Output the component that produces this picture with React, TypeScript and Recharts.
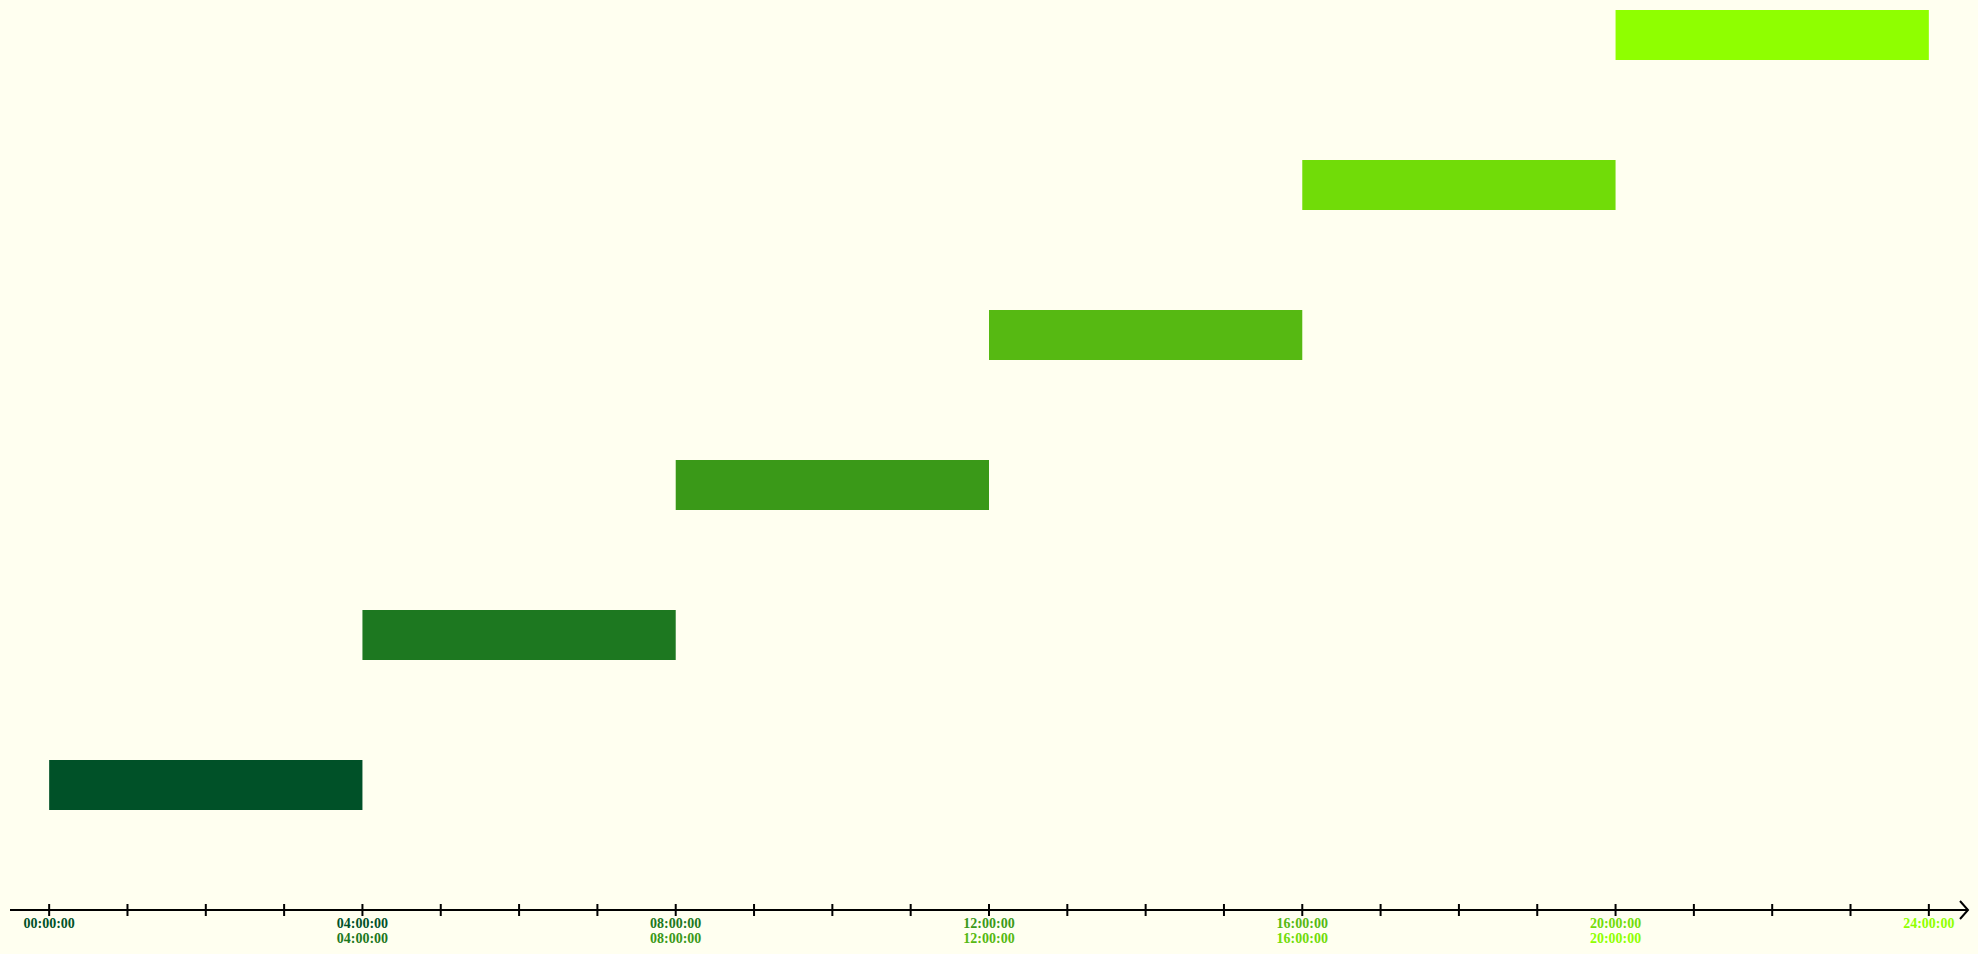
import { Bar, BarChart, Cell, XAxis, YAxis } from "recharts";

// one row per shift, bottom row first
const ROWS = ["Shift 1", "Shift 2", "Shift 3", "Shift 4", "Shift 5", "Shift 6"];
const START_HOURS = [0, 4, 8, 12, 16, 20];
const END_HOURS = [4, 8, 12, 16, 20, 24];
const COLORS = ["#005128", "#1d7820", "#3a9918", "#56b912", "#71dc08", "#8fff00"];
const HOUR_TICKS = [0, 1, 2, 3, 4, 5, 6, 7, 8, 9, 10, 11, 12, 13, 14, 15, 16, 17, 18, 19, 20, 21, 22, 23, 24];
const LABELED_HOURS = [0, 4, 8, 12, 16, 20, 24];
const AXIS_START = -0.5;
const AXIS_END = 24.5;

const data = ROWS.map((name, i) => ({ name, span: [START_HOURS[i], END_HOURS[i]] }));

const fmt = (h: number) => `${String(h).padStart(2, "0")}:00:00`;

function HourTick({ x, y, payload }: any) {
  const v = payload.value as number;
  if (v === AXIS_END) {
    return <path d={`M${x - 8},${y - 9} L${x},${y} L${x - 8},${y + 9}`} fill="none" stroke="#000" strokeWidth={2} />;
  }
  const lines: { text: string; color: string }[] = [];
  if (LABELED_HOURS.includes(v)) {
    END_HOURS.forEach((h, i) => h === v && lines.push({ text: fmt(h), color: COLORS[i] }));
    START_HOURS.forEach((h, i) => h === v && lines.push({ text: fmt(h), color: COLORS[i] }));
  }
  return (
    <g>
      <line x1={x} x2={x} y1={y - 6} y2={y + 6} stroke="#000" strokeWidth={2} />
      {lines.map((l, i) => (
        <text key={i} x={x} y={y + 18 + i * 15} textAnchor="middle" fill={l.color}
              fontSize={14} fontWeight="bold" fontFamily="'Liberation Serif', serif">
          {l.text}
        </text>
      ))}
    </g>
  );
}

export default function App() {
  return (
    <div style={{ position: "absolute", left: 0, top: 0, width: 1978, height: 954, background: "#fffff0" }}>
      <BarChart width={1978} height={954} data={data} layout="vertical"
                margin={{ top: 10, right: 10, left: 10, bottom: 0 }} barCategoryGap={0}>
        <XAxis type="number" domain={[AXIS_START, AXIS_END]} ticks={[...HOUR_TICKS, AXIS_END]} interval={0}
               height={44} tickSize={0} tickMargin={0} tickLine={false}
               axisLine={{ stroke: "#000", strokeWidth: 2 }} tick={<HourTick />} />
        <YAxis type="category" dataKey="name" hide reversed padding={{ top: -50, bottom: 50 }} />
        <Bar dataKey="span" barSize={50} isAnimationActive={false}>
          {data.map((d, i) => <Cell key={d.name} fill={COLORS[i]} />)}
        </Bar>
      </BarChart>
    </div>
  );
}
